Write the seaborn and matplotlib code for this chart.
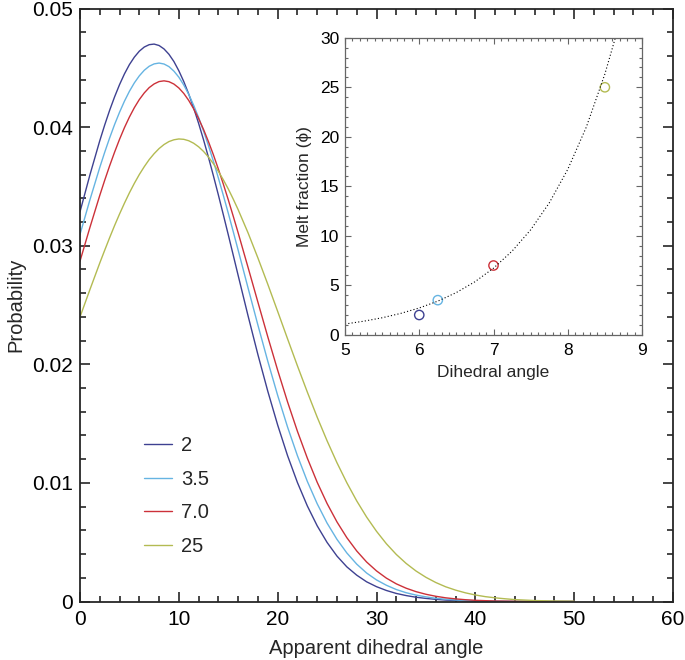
import matplotlib
matplotlib.use("Agg")
import matplotlib.pyplot as plt
import pandas as pd
import seaborn as sns
from matplotlib.ticker import MultipleLocator

# Apparent dihedral angle: half-degree samples around the peaks, whole degrees elsewhere
angle = [0, 1, 2, 2.5, 3, 3.5, 4, 4.5, 5, 5.5, 6, 6.5, 7, 7.5, 8, 8.5, 9, 9.5, 10, 10.5,
         11, 11.5, 12, 12.5, 13, 13.5, 14, 14.5, 15, 15.5, 16, 17, 18, 19, 20, 21, 22, 23, 24, 25,
         26, 27, 28, 29, 30, 31, 32, 33, 34, 35, 36, 37, 38, 39, 40, 41, 42, 43, 44, 45,
         46, 47, 48, 49, 50]

# Probability curves, one per melt fraction
prob_2 = [0.03286, 0.03596, 0.03885, 0.04018, 0.04142, 0.04255, 0.04358, 0.04449, 0.04527, 0.04590,
          0.04640, 0.04675, 0.04695, 0.04700, 0.04688, 0.04659, 0.04614, 0.04553, 0.04475, 0.04384,
          0.04279, 0.04161, 0.04032, 0.03893, 0.03745, 0.03589, 0.03428, 0.03262, 0.03093, 0.02922,
          0.02750, 0.02410, 0.02082, 0.01773, 0.01488, 0.01230, 0.01003, 0.00806, 0.00638, 0.00498,
          0.00383, 0.00292, 0.00222, 0.00166, 0.00125, 0.00093, 0.00068, 0.00050, 0.00036, 0.00026,
          0.00018, 0.00012, 0.00008, 0.00005, 0.00003, 0.00002, 0.00001, 0, 0, 0,
          0, 0, 0, 0, 0]
prob_35 = [0.03095, 0.03386, 0.03660, 0.03788, 0.03909, 0.04022, 0.04125, 0.04219, 0.04302, 0.04373,
           0.04432, 0.04479, 0.04513, 0.04533, 0.04540, 0.04532, 0.04510, 0.04472, 0.04421, 0.04355,
           0.04276, 0.04184, 0.04081, 0.03967, 0.03843, 0.03711, 0.03571, 0.03425, 0.03275, 0.03120,
           0.02963, 0.02645, 0.02331, 0.02026, 0.01738, 0.01471, 0.01229, 0.01013, 0.00824, 0.00661,
           0.00524, 0.00409, 0.00315, 0.00240, 0.00182, 0.00137, 0.00101, 0.00074, 0.00054, 0.00039,
           0.00027, 0.00019, 0.00013, 0.00009, 0.00006, 0.00004, 0.00002, 0.00001, 0, 0,
           0, 0, 0, 0, 0]
prob_70 = [0.02870, 0.03153, 0.03424, 0.03552, 0.03674, 0.03789, 0.03897, 0.03996, 0.04085, 0.04164,
           0.04232, 0.04288, 0.04333, 0.04364, 0.04384, 0.04390, 0.04383, 0.04363, 0.04330, 0.04284,
           0.04225, 0.04154, 0.04072, 0.03980, 0.03877, 0.03766, 0.03646, 0.03520, 0.03388, 0.03250,
           0.03109, 0.02818, 0.02524, 0.02232, 0.01950, 0.01683, 0.01435, 0.01209, 0.01005, 0.00826,
           0.00671, 0.00538, 0.00426, 0.00333, 0.00258, 0.00197, 0.00149, 0.00112, 0.00083, 0.00061,
           0.00044, 0.00031, 0.00022, 0.00015, 0.00010, 0.00007, 0.00004, 0.00003, 0.00002, 0.00001,
           0, 0, 0, 0, 0]
prob_25 = [0.02399, 0.02629, 0.02854, 0.02962, 0.03068, 0.03170, 0.03267, 0.03359, 0.03446, 0.03526,
           0.03600, 0.03666, 0.03726, 0.03776, 0.03819, 0.03853, 0.03878, 0.03893, 0.03900, 0.03897,
           0.03885, 0.03864, 0.03834, 0.03795, 0.03747, 0.03691, 0.03627, 0.03556, 0.03479, 0.03394,
           0.03304, 0.03109, 0.02897, 0.02675, 0.02446, 0.02215, 0.01987, 0.01766, 0.01554, 0.01355,
           0.01170, 0.01001, 0.00848, 0.00712, 0.00592, 0.00487, 0.00397, 0.00321, 0.00257, 0.00204,
           0.00160, 0.00124, 0.00096, 0.00073, 0.00055, 0.00041, 0.00031, 0.00023, 0.00016, 0.00012,
           0.00008, 0.00006, 0.00004, 0.00003, 0.00002]

melt_labels = ['2', '3.5', '7.0', '25']
colors = ['#3e4191', '#66b4e2', '#cc3139', '#b3bb52']

# Inset: dihedral angle vs melt fraction, plus the dotted trend line
inset_angle = [6.0, 6.25, 7.0, 8.5]
inset_melt = [2.0, 3.5, 7.0, 25.0]
trend_angle = [5.0, 5.25, 5.5, 5.75, 6.0, 6.25, 6.5, 6.75, 7.0, 7.25, 7.5, 7.75, 8.0, 8.25, 8.5, 8.66]
trend_melt = [1.09, 1.37, 1.72, 2.16, 2.71, 3.40, 4.27, 5.36, 6.73, 8.45, 10.60, 13.31, 16.71, 20.98, 26.34, 30.5]

y_ticks = [0, 0.01, 0.02, 0.03, 0.04, 0.05]
y_ticklabels = ['0', '0.01', '0.02', '0.03', '0.04', '0.05']

# Long table for seaborn
curves = pd.concat([
    pd.DataFrame({'angle': angle, 'prob': p, 'melt': lab})
    for p, lab in zip([prob_2, prob_35, prob_70, prob_25], melt_labels)
])
points = pd.DataFrame({'angle': inset_angle, 'melt_frac': inset_melt, 'melt': melt_labels})
palette = dict(zip(melt_labels, colors))

sns.set_style("ticks")
plt.rcParams['font.family'] = ['Liberation Sans', 'DejaVu Sans']
# inward ticks on all four sides
plt.rcParams.update({
    'xtick.direction': 'in', 'ytick.direction': 'in',
    'xtick.top': True, 'ytick.right': True,
    'xtick.major.size': 7.5, 'ytick.major.size': 7.5,
    'xtick.minor.size': 4, 'ytick.minor.size': 4,
    'xtick.major.width': 1.2, 'ytick.major.width': 1.2,
    'xtick.minor.width': 1.2, 'ytick.minor.width': 1.2,
    'xtick.major.pad': 6, 'ytick.major.pad': 5,
    'xtick.labelsize': 15, 'ytick.labelsize': 15,
    'xtick.labelcolor': 'black', 'ytick.labelcolor': 'black',
})

fig = plt.figure(figsize=(6.85, 6.6), dpi=100)
ax = fig.add_axes([80 / 685, 58.5 / 660, 593 / 685, 593 / 660])

sns.lineplot(data=curves, x='angle', y='prob', hue='melt', hue_order=melt_labels,
             palette=palette, linewidth=1.0, ax=ax)
ax.set_xlim(0, 60)
ax.set_ylim(0, 0.05)
ax.xaxis.set_major_locator(MultipleLocator(10))
ax.xaxis.set_minor_locator(MultipleLocator(2))
ax.set_yticks(y_ticks, y_ticklabels)
ax.yaxis.set_minor_locator(MultipleLocator(0.002))
for s in ax.spines.values():
    s.set_linewidth(1.3)
ax.set_xlabel('Apparent dihedral angle', fontsize=14.5, labelpad=7)
ax.set_ylabel('Probability', fontsize=14.5, labelpad=5)

handles, labels = ax.get_legend_handles_labels()
ax.legend(handles, labels, loc='upper left', bbox_to_anchor=(0.108, 0.279), frameon=False,
          fontsize=14.5, handlelength=1.4, handletextpad=0.45, labelspacing=0.73,
          borderpad=0, borderaxespad=0)

# Inset, with smaller grey ticks
plt.rcParams.update({
    'xtick.major.size': 4.5, 'ytick.major.size': 4.5,
    'xtick.minor.size': 2.2, 'ytick.minor.size': 2.2,
    'xtick.major.width': 0.8, 'ytick.major.width': 0.8,
    'xtick.minor.width': 0.8, 'ytick.minor.width': 0.8,
    'xtick.color': '#666666', 'ytick.color': '#666666',
    'xtick.major.pad': 6, 'ytick.major.pad': 4,
    'xtick.labelsize': 12.5, 'ytick.labelsize': 12.5,
})
axin = fig.add_axes([345 / 685, 325.2 / 660, 297 / 685, 297 / 660])
axin.plot(trend_angle, trend_melt, color='black', linestyle=(0, (1, 2)), linewidth=0.8)
sns.scatterplot(data=points, x='angle', y='melt_frac', hue='melt', hue_order=melt_labels,
                palette=palette, marker='o', s=45, linewidth=1.0,
                legend=False, ax=axin)
# hollow markers with coloured edges
for coll in axin.collections:
    coll.set_edgecolors([palette[m] for m in melt_labels])
    coll.set_facecolors('none')
axin.set_xlim(5, 9)
axin.set_ylim(0, 30)
axin.xaxis.set_major_locator(MultipleLocator(1))
axin.xaxis.set_minor_locator(MultipleLocator(0.1))
axin.yaxis.set_major_locator(MultipleLocator(5))
axin.yaxis.set_minor_locator(MultipleLocator(1))
for s in axin.spines.values():
    s.set_linewidth(0.9)
    s.set_color('#666666')
axin.set_xlabel('Dihedral angle', fontsize=12.5, labelpad=5)
axin.set_ylabel('Melt fraction (\u03d5)', fontsize=12.5, labelpad=6)

fig.savefig('out.png', dpi=100)
